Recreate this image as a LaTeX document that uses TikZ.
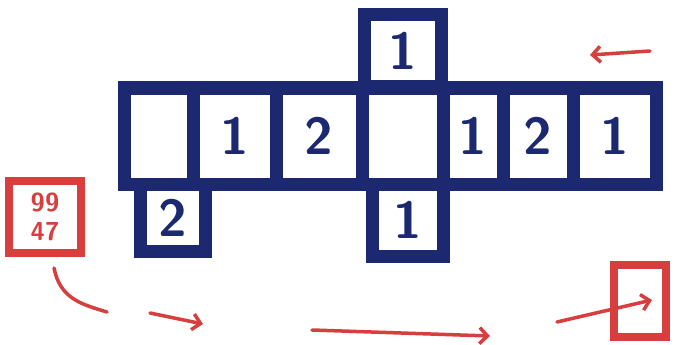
\documentclass[tikz,border=0pt]{standalone}
\usetikzlibrary{arrows.meta}
\definecolor{navy}{RGB}{28,40,112}
\definecolor{pen}{RGB}{215,62,62}
\begin{document}
\begin{tikzpicture}[x=1pt,y=-1pt,
  cell/.style={draw=navy,line width=13pt,fill=white,inner sep=0pt,
    font=\fontsize{52}{52}\selectfont\sffamily\bfseries,text=navy},
  redarrow/.style={draw=pen,line width=3.5pt,line cap=round,
    -{Straight Barb[length=8pt,width=16pt,line width=3.5pt]}},
  redbox/.style={draw=pen,line width=8pt,inner sep=0pt,fill=white}]
\useasboundingbox[fill=white] (0,0) rectangle (680,345);
% main row
\node[cell,minimum width=69pt,minimum height=96pt] (a1) at (158.5,136) {};
\node[cell,minimum width=83pt,minimum height=96pt] (a2) at (234.5,136) {1};
\node[cell,minimum width=86pt,minimum height=96pt] (a3) at (319,136) {2};
\node[cell,minimum width=81pt,minimum height=96pt] (a4) at (402.5,136) {};
\node[cell,minimum width=60pt,minimum height=96pt] (a5) at (473,136) {1};
\node[cell,minimum width=70pt,minimum height=96pt] (a6) at (538,136) {2};
\node[cell,minimum width=83pt,minimum height=96pt] (a7) at (614.5,136) {1};
% top and bottom cells
\node[cell,minimum width=77pt,minimum height=72pt] (t1) at (402.5,51) {1};
\node[cell,minimum width=71pt,minimum height=72pt] (b1) at (407.5,220) {1};
\node[cell,minimum width=65pt,minimum height=67pt] (b2) at (172.5,217.5) {2};
% red boxes
\node[redbox,minimum width=72pt,minimum height=72pt,text=pen,
  font=\fontsize{26}{29}\selectfont\sffamily\bfseries,align=center] (r1) at (45,217) {99\\47};
\node[redbox,minimum width=52pt,minimum height=72pt] (r2) at (640,301) {};
% arrows
\coordinate (p0) at (650,51);
\coordinate (p1) at (590,55);
\draw[redarrow] (p0) -- (p1);
\coordinate (q0) at (54,268);
\coordinate (q1) at (107,312);
\draw[draw=pen,line width=3.5pt,line cap=round] (q0) .. controls (60,298) and (80,304) .. (q1);
\coordinate (s0) at (150,313);
\coordinate (s1) at (203,324);
\draw[redarrow] (s0) -- (s1);
\coordinate (m0) at (312,330);
\coordinate (m1) at (490,336);
\draw[redarrow] (m0) -- (m1);
\coordinate (n0) at (557,322);
\coordinate (n1) at (652,300);
\draw[redarrow] (n0) -- (n1);
\end{tikzpicture}
\end{document}
